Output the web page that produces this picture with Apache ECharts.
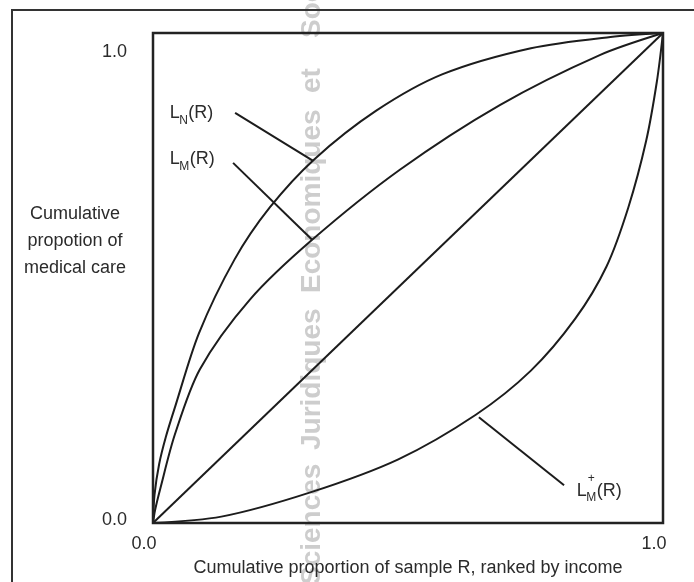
<!DOCTYPE html>
<html><head><meta charset="utf-8">
<script src="https://cdn.jsdelivr.net/npm/echarts@6/dist/echarts.min.js"></script>
<style>html,body{margin:0;padding:0;background:#fff}#c{width:694px;height:582px}</style>
</head><body><div id="c"></div>
<script>
// ---- data ----
const tickValues = [0, 1];
const tickLabels = ['0.0', '1.0'];
const xTitle = 'Cumulative proportion of sample R, ranked by income';
const yTitle = 'Cumulative\npropotion of\nmedical care';

const lnX = [0, 0.003, 0.012, 0.025, 0.043, 0.09, 0.16, 0.229, 0.316, 0.437, 0.568, 0.741, 0.897, 1];
const lnY = [0, 0.058, 0.12, 0.175, 0.236, 0.387, 0.538, 0.644, 0.742, 0.841, 0.916, 0.969, 0.992, 1];

const lmX = [0, 0.004, 0.014, 0.043, 0.092, 0.190, 0.312, 0.484, 0.680, 0.876, 1];
const lmY = [0, 0.026, 0.069, 0.181, 0.314, 0.456, 0.578, 0.721, 0.853, 0.955, 1];

const diagX = [0, 1];
const diagY = [0, 1];

const lpX = [0, 0.134, 0.307, 0.481, 0.633, 0.741, 0.828, 0.889, 0.932, 0.967, 0.988, 1];
const lpY = [0, 0.013, 0.062, 0.130, 0.221, 0.311, 0.417, 0.523, 0.644, 0.780, 0.901, 1];

// leader lines (data coords)
const leaderLN = [[0.161, 0.837], [0.314, 0.739]];
const leaderLM = [[0.157, 0.735], [0.312, 0.578]];
const leaderLP = [[0.639, 0.216], [0.806, 0.077]];

// label anchors (data coords): left of "L", cap centre
const labelLN = [0.033, 0.836];
const labelLM = [0.033, 0.742];
const labelLP = [0.831, 0.066];

const watermarkWords = ['Sciences', 'Juridiques', 'Economiques', 'et', 'Sociales'];
const watermarkStarts = [585, 450, 293, 93, 38];

// ---- chart ----
const FONT = "'Liberation Sans', Arial, Helvetica, sans-serif";
const TXT = '#2b2b2b';
const LS = {color: '#1c1c1c', width: 2};
const pairs = (xs, ys) => xs.map((x, i) => [x, ys[i]]);
const tl = v => tickLabels[tickValues.indexOf(v)];

const chart = echarts.init(document.getElementById('c'), null, {renderer: 'canvas'});

function lineSeries(data, smooth) {
  return {type: 'line', data: data, showSymbol: false, symbol: 'none', smooth: smooth,
    lineStyle: LS, z: 3, silent: true};
}

chart.setOption({
  animation: false,
  backgroundColor: '#fff',
  grid: {left: 153, top: 33, width: 510, height: 491, show: true, borderColor: '#222',
    borderWidth: 2.5, backgroundColor: 'transparent', z: 4},
  xAxis: {
    type: 'value', min: 0, max: 1, interval: 1,
    axisLine: {show: false}, axisTick: {show: false}, splitLine: {show: false},
    axisLabel: {margin: 12, formatter: v => '{a|' + tl(v) + '}',
      rich: {a: {fontFamily: FONT, fontSize: 18, color: TXT, padding: [0, 18, 0, 0]}}},
    name: xTitle, nameLocation: 'middle', nameGap: 36,
    nameTextStyle: {fontFamily: FONT, fontSize: 18, color: TXT}
  },
  yAxis: {
    type: 'value', min: 0, max: 1, interval: 1,
    axisLine: {show: false}, axisTick: {show: false}, splitLine: {show: false},
    axisLabel: {margin: 26, formatter: v => (v === 0 ? '{b|' : '{t|') + tl(v) + '}',
      rich: {
        t: {fontFamily: FONT, fontSize: 18, color: TXT, padding: [38, 0, 0, 0]},
        b: {fontFamily: FONT, fontSize: 18, color: TXT, padding: [0, 0, 6, 0]}
      }}
  },
  series: [
    lineSeries(pairs(lnX, lnY), 0.3),
    lineSeries(pairs(lmX, lmY), 0.3),
    lineSeries(pairs(diagX, diagY), false),
    lineSeries(pairs(lpX, lpY), 0.3),
    lineSeries(leaderLN, false),
    lineSeries(leaderLM, false),
    lineSeries(leaderLP, false)
  ]
});

function px(p) { return chart.convertToPixel({gridIndex: 0}, p); }
function txt(text, x, y, size, extra) {
  return Object.assign({type: 'text', x: x, y: y, z: 10, silent: true,
    style: {text: text, fontFamily: FONT, fontSize: size, fill: TXT, align: 'left', verticalAlign: 'middle'}}, extra || {});
}
function subLabel(anchor, sub, sup) {
  const p = px(anchor);
  const els = [txt('L', p[0], p[1], 18), txt(sub, p[0] + 9.5, p[1] + 7.5, 12)];
  const subW = sub === 'N' ? 9 : 10.5;
  els.push(txt('(R)', p[0] + 9.5 + subW, p[1], 18));
  if (sup) els.push(txt(sup, p[0] + 11, p[1] - 12, 12));
  return els;
}

const graphics = [];
// outer frame
graphics.push({type: 'polyline', z: 1, silent: true,
  shape: {points: [[12, 582], [12, 10], [694, 10]]}, style: {stroke: '#333', lineWidth: 2, fill: null}});
// watermark
watermarkWords.forEach((w, i) => {
  graphics.push({type: 'text', x: 312.5, y: watermarkStarts[i], rotation: Math.PI / 2, z: -10, silent: true,
    style: {text: w, fontFamily: FONT, fontSize: 28, fontWeight: 'bold', fill: '#cdcdcd', align: 'left', verticalAlign: 'middle'}});
});
// y title
graphics.push({type: 'text', x: 75, y: 241, z: 10, silent: true,
  style: {text: yTitle, fontFamily: FONT, fontSize: 18, lineHeight: 27, fill: TXT, align: 'center', verticalAlign: 'middle'}});
// curve labels
graphics.push(...subLabel(labelLN, 'N'));
graphics.push(...subLabel(labelLM, 'M'));
graphics.push(...subLabel(labelLP, 'M', '+'));

chart.setOption({graphic: graphics});
</script>
</body></html>
